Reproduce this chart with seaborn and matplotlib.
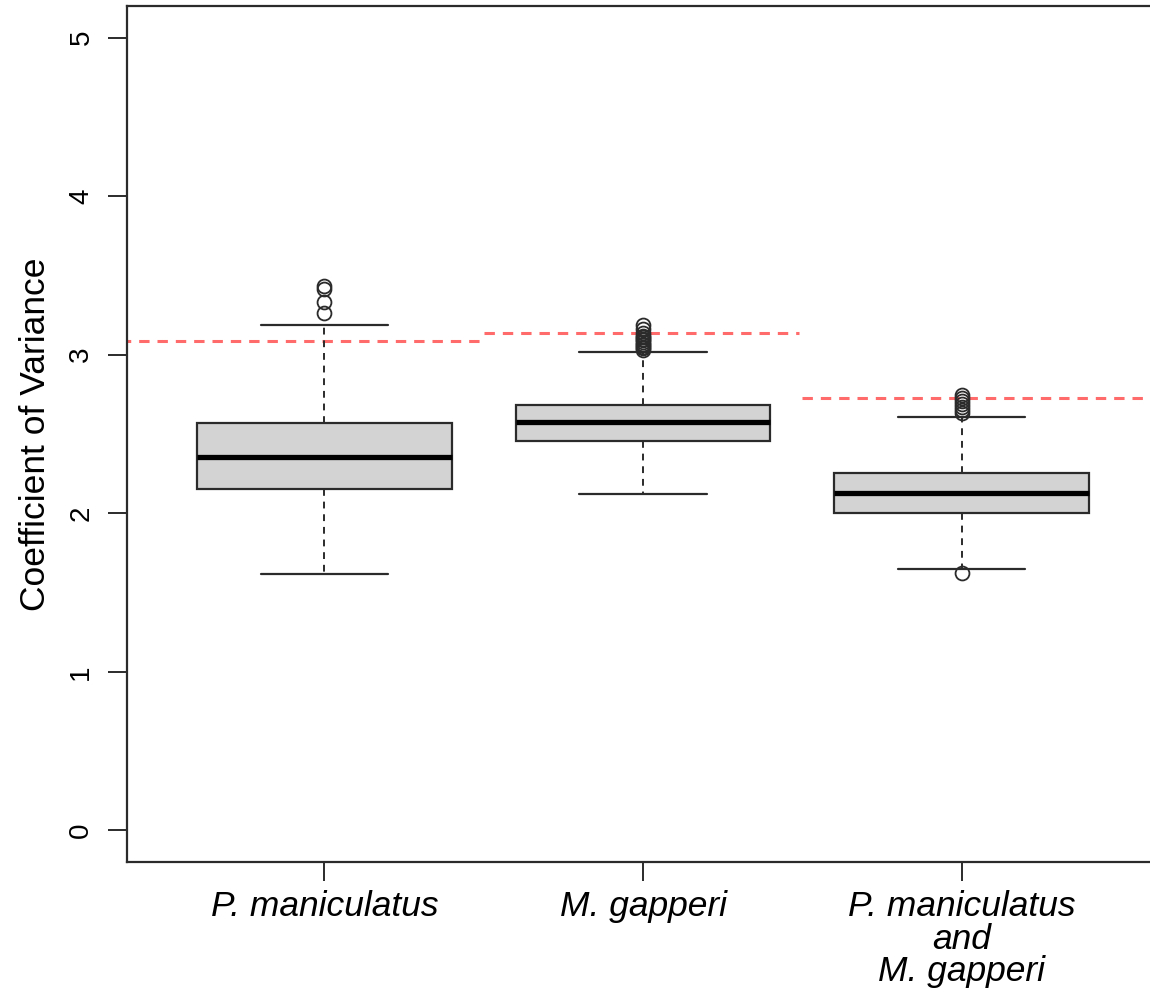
import numpy as np
import pandas as pd
import matplotlib
matplotlib.use("Agg")
import matplotlib.pyplot as plt
import seaborn as sns

# ---- data ----
groups = ["P. maniculatus", "M. gapperi", "P. maniculatus\nand\nM. gapperi"]
whisker_low = [1.614, 2.119, 1.646]
q1 = [2.156, 2.455, 2.003]
median = [2.358, 2.574, 2.125]
q3 = [2.572, 2.686, 2.251]
whisker_high = [3.190, 3.016, 2.608]
outliers_1 = [3.266, 3.335, 3.415, 3.435]
outliers_2 = [3.03, 3.04, 3.05, 3.06, 3.07, 3.08, 3.09, 3.10, 3.11, 3.12, 3.14, 3.16, 3.19]
outliers_3 = [1.62, 2.63, 2.65, 2.67, 2.69, 2.71, 2.73, 2.745]
threshold = [3.085, 3.138, 2.728]
threshold_start = [0.30, 1.50, 2.50]
threshold_end = [1.49, 2.49, 3.70]
y_ticks = [0, 1, 2, 3, 4, 5]

sns.set_theme(style="white")
plt.rcParams["font.family"] = ["Liberation Sans", "DejaVu Sans"]
plt.rcParams["text.color"] = "black"
plt.rcParams["axes.labelcolor"] = "black"
plt.rcParams["xtick.labelcolor"] = "black"
plt.rcParams["ytick.labelcolor"] = "black"

W, H = 1150, 992
fig = plt.figure(figsize=(W / 100, H / 100), dpi=100)
left, right, bottom, top = 127, 1159, 862, 6
ax = fig.add_axes([left / W, (H - bottom) / H, (right - left) / W, (bottom - top) / H])

stats = []
for i, fl in enumerate([outliers_1, outliers_2, outliers_3]):
    stats.append(dict(med=median[i], q1=q1[i], q3=q3[i],
                      whislo=whisker_low[i], whishi=whisker_high[i],
                      fliers=np.array(fl), label=groups[i]))

edge = "#2b2b2b"
ax.bxp(stats, positions=[1, 2, 3], widths=0.8, capwidths=0.4, patch_artist=True,
       boxprops=dict(facecolor="#d3d3d3", edgecolor=edge, linewidth=1.6),
       whiskerprops=dict(color=edge, linewidth=1.4, linestyle=(0, (3.5, 3))),
       capprops=dict(color=edge, linewidth=1.6),
       medianprops=dict(color="black", linewidth=3.8, solid_capstyle="butt"),
       flierprops=dict(marker="o", markerfacecolor="none", markeredgecolor=edge,
                       markersize=10, markeredgewidth=1.3))

palette = sns.color_palette(["#ff5a5a"])
for s, e, t in zip(threshold_start, threshold_end, threshold):
    ax.plot([s, e], [t, t], color=palette[0], linewidth=2.2,
            linestyle=(0, (3.4, 2.6)), alpha=0.9, zorder=1)

ax.set_xlim(0.38, 3.62)
ax.set_ylim(-0.2, 5.2)
ax.set_yticks(y_ticks)
ax.set_yticklabels([str(v) for v in y_ticks], rotation=90, va="center", fontsize=20,
                   color="black")
ax.set_xticks([1, 2, 3])
ax.set_xticklabels(groups, fontsize=25.5, fontstyle="italic", linespacing=0.97,
                   color="black")
ax.tick_params(axis="both", which="both", direction="out", length=13.5, width=1.4,
               color=edge, left=True, bottom=True)
ax.tick_params(axis="y", pad=10)
ax.tick_params(axis="x", pad=7)
ax.set_ylabel("Coefficient of Variance", fontsize=25.5, labelpad=12, color="black")
ax.set_xlabel("")
for sp in ax.spines.values():
    sp.set_visible(True)
    sp.set_color(edge)
    sp.set_linewidth(1.6)
ax.grid(False)

fig.savefig("out.png", dpi=100)
